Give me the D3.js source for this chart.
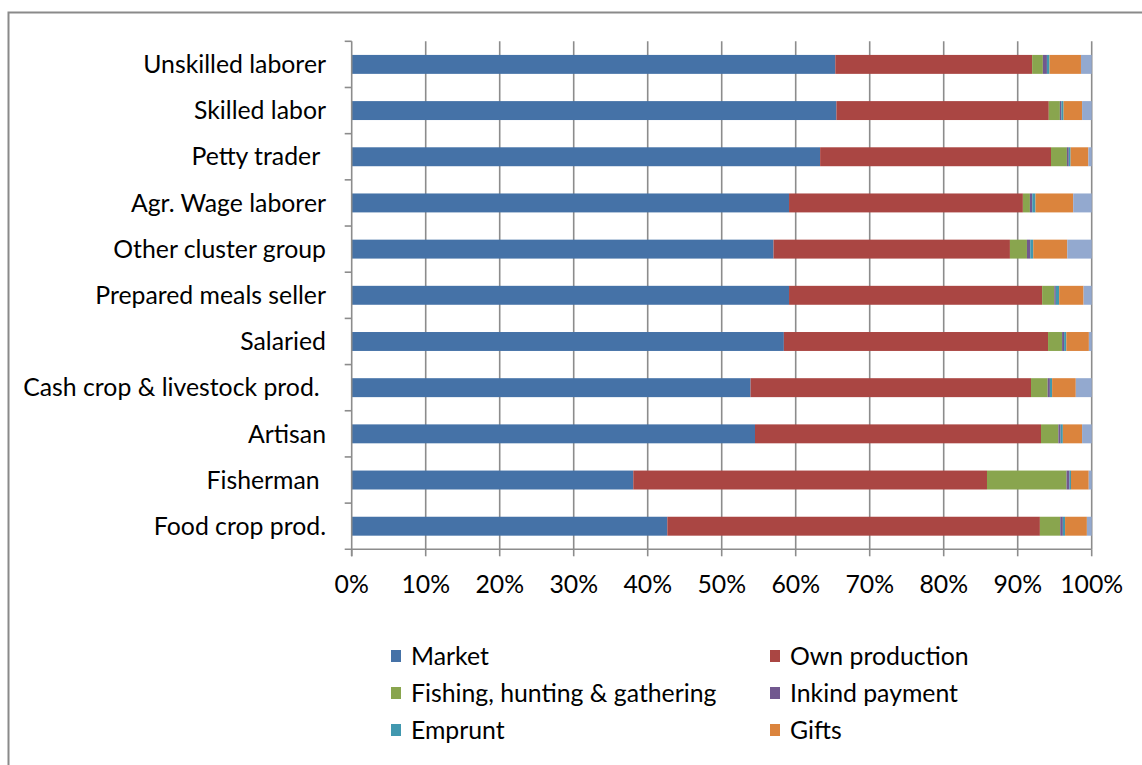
<!DOCTYPE html>
<html>
<head>
<meta charset="utf-8">
<script src="https://cdn.jsdelivr.net/npm/d3@7"></script>
<style>
  body { margin: 0; background: #fff; }
  text { white-space: pre; }
</style>
</head>
<body>
<script>
const width = 1142;
const height = 765;

// categories listed top to bottom
const categories = [
  "Unskilled laborer",
  "Skilled labor",
  "Petty trader ",
  "Agr. Wage laborer",
  "Other cluster group",
  "Prepared meals seller",
  "Salaried",
  "Cash crop & livestock prod. ",
  "Artisan",
  "Fisherman ",
  "Food crop prod."
];

const seriesNames = ["Market", "Own production", "Fishing, hunting & gathering", "Inkind payment", "Emprunt", "Gifts", "Other"];
const seriesColors = ["#4572A7", "#AA4643", "#89A54E", "#71588F", "#4198AF", "#DB843D", "#93A9CF"];

const market        = [65.35, 65.5, 63.3, 59.1, 57.0, 59.1, 58.4, 53.9, 54.5, 38.05, 42.65];
const ownProduction = [26.6, 28.7, 31.2, 31.6, 31.95, 34.2, 35.7, 37.9, 38.65, 47.8, 50.35];
const fishing       = [1.45, 1.5, 2.15, 0.95, 2.3, 1.65, 1.9, 2.25, 2.35, 10.75, 2.75];
const inkind        = [0.55, 0.2, 0.25, 0.32, 0.45, 0.2, 0.27, 0.3, 0.3, 0.4, 0.35];
const emprunt       = [0.35, 0.3, 0.25, 0.43, 0.4, 0.45, 0.3, 0.3, 0.3, 0.2, 0.3];
const gifts         = [4.25, 2.5, 2.4, 5.1, 4.6, 3.3, 3.05, 3.2, 2.6, 2.4, 2.95];
const other         = [1.45, 1.3, 0.45, 2.5, 3.3, 1.1, 0.38, 2.15, 1.3, 0.4, 0.65];

const xTicks = [0, 0.1, 0.2, 0.3, 0.4, 0.5, 0.6, 0.7, 0.8, 0.9, 1];
const legendNames = seriesNames.slice(0, 6);

const allSeries = [market, ownProduction, fishing, inkind, emprunt, gifts, other];
const rows = categories.map((c, i) => {
  const row = { category: c };
  seriesNames.forEach((s, j) => { row[s] = allSeries[j][i]; });
  return row;
});

const font = "Lato, 'Open Sans', sans-serif";
const fontSize = 24.8;

const svg = d3.select("body").append("svg")
  .attr("width", width)
  .attr("height", height);

svg.append("rect")
  .attr("x", 8.5)
  .attr("y", 12.5)
  .attr("width", 1200)
  .attr("height", 800)
  .attr("fill", "#fff")
  .attr("stroke", "#8a8a8a")
  .attr("stroke-width", 2);

const plotTop = 41.3, plotBottom = 549.3;
const x = d3.scaleLinear().domain([0, 1]).range([351.7, 1091.7]);
const y = d3.scaleBand().domain(categories).range([plotTop, plotBottom])
  .paddingInner(0.59).paddingOuter(0.295);

const axisColor = "#8c8c8c";

// gridlines
svg.append("g")
  .selectAll("line")
  .data(xTicks.slice(1))
  .join("line")
  .attr("x1", d => x(d)).attr("x2", d => x(d))
  .attr("y1", plotTop).attr("y2", plotBottom)
  .attr("stroke", axisColor)
  .attr("stroke-width", 1.6);

const stack = d3.stack().keys(seriesNames).offset(d3.stackOffsetExpand);
const stacked = stack(rows);

svg.append("g")
  .selectAll("g")
  .data(stacked)
  .join("g")
  .attr("fill", (d, i) => seriesColors[i])
  .selectAll("rect")
  .data(d => d)
  .join("rect")
  .attr("x", d => x(d[0]))
  .attr("width", d => x(d[1]) - x(d[0]))
  .attr("y", d => y(d.data.category))
  .attr("height", y.bandwidth());

// y axis
const yAxis = svg.append("g");
yAxis.append("line")
  .attr("x1", x(0)).attr("x2", x(0))
  .attr("y1", plotTop).attr("y2", plotBottom + 7)
  .attr("stroke", axisColor).attr("stroke-width", 1.6);
const boundaries = categories.map(c => y(c) - y.step() * y.paddingOuter());
yAxis.selectAll("line.tick")
  .data(boundaries)
  .join("line")
  .attr("class", "tick")
  .attr("x1", x(0) - 7).attr("x2", x(0))
  .attr("y1", d => d).attr("y2", d => d)
  .attr("stroke", axisColor).attr("stroke-width", 1.6);
yAxis.selectAll("text")
  .data(categories)
  .join("text")
  .attr("x", 326)
  .attr("y", d => y(d) + y.bandwidth() / 2)
  .attr("dy", "0.35em")
  .attr("text-anchor", "end")
  .attr("font-family", font)
  .attr("font-size", fontSize)
  .attr("fill", "#000")
  .text(d => d);

// x axis
const xAxis = svg.append("g");
xAxis.append("line")
  .attr("x1", x(0) - 7).attr("x2", x(1))
  .attr("y1", plotBottom).attr("y2", plotBottom)
  .attr("stroke", axisColor).attr("stroke-width", 1.6);
xAxis.selectAll("line.tick")
  .data(xTicks)
  .join("line")
  .attr("class", "tick")
  .attr("x1", d => x(d)).attr("x2", d => x(d))
  .attr("y1", plotBottom).attr("y2", plotBottom + 7)
  .attr("stroke", axisColor).attr("stroke-width", 1.6);
xAxis.selectAll("text")
  .data(xTicks)
  .join("text")
  .attr("x", d => x(d))
  .attr("y", 584)
  .attr("dy", "0.35em")
  .attr("text-anchor", "middle")
  .attr("font-family", font)
  .attr("font-size", fontSize)
  .attr("fill", "#000")
  .text(d3.format(".0%"));

// legend
const legendX = [391, 770];
const legendY = [656, 693, 730];
const legend = svg.append("g")
  .selectAll("g")
  .data(legendNames)
  .join("g")
  .attr("transform", (d, i) => `translate(${legendX[i % 2]},${legendY[Math.floor(i / 2)]})`);
legend.append("rect")
  .attr("x", 0).attr("y", -6)
  .attr("width", 10).attr("height", 12)
  .attr("fill", (d, i) => seriesColors[i]);
legend.append("text")
  .attr("x", 20)
  .attr("dy", "0.35em")
  .attr("font-family", font)
  .attr("font-size", fontSize)
  .attr("fill", "#000")
  .text(d => d);
</script>
</body>
</html>
